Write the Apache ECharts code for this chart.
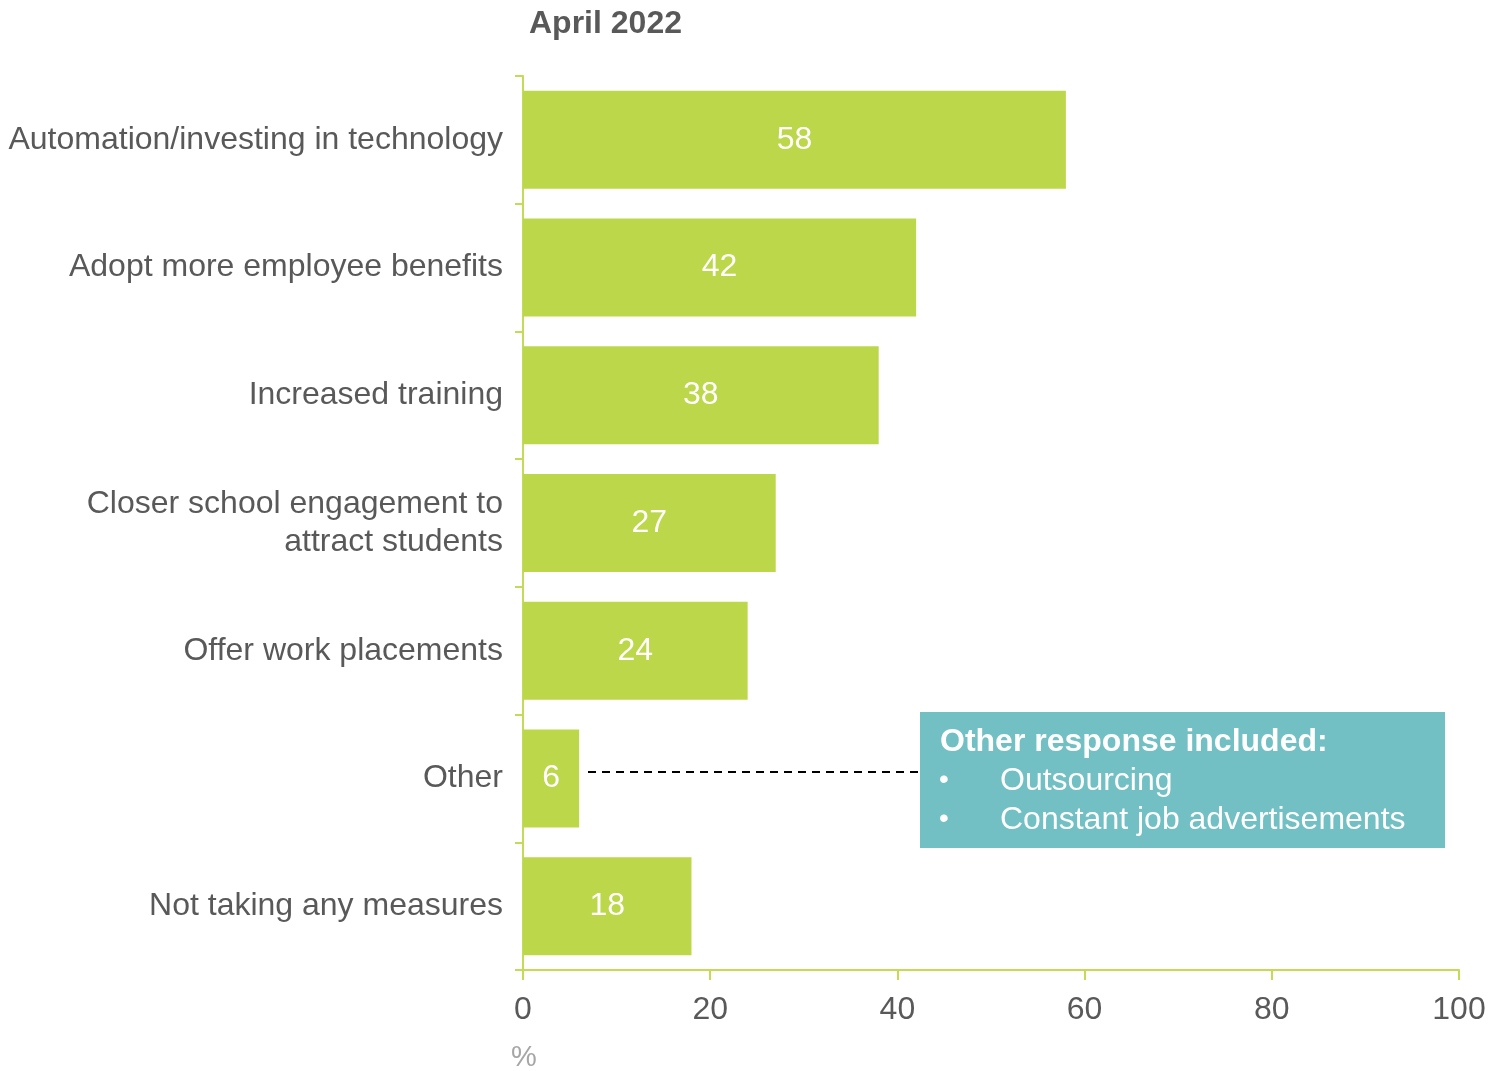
<!DOCTYPE html>
<html>
<head>
<meta charset="utf-8">
<script src="https://cdn.jsdelivr.net/npm/echarts@6/dist/echarts.min.js"></script>
<style>
html,body{margin:0;padding:0;background:#fff;}
#chart{width:1491px;height:1071px;}
</style>
</head>
<body>
<div id="chart"></div>
<script>
const categories = [
  "Automation/investing in technology",
  "Adopt more employee benefits",
  "Increased training",
  "Closer school engagement to\nattract students",
  "Offer work placements",
  "Other",
  "Not taking any measures"
];
const values = [58, 42, 38, 27, 24, 6, 18];
const xTicks = { min: 0, max: 100, interval: 20 };
const titleText = "April 2022";
const unitText = "%";
const noteTitle = "Other response included:";
const noteItems = ["Outsourcing", "Constant job advertisements"];

const FONT = '"Liberation Sans", Arial, sans-serif';
const GREEN = '#BCD749';
const AXIS = '#C3DB55';
const TEXT = '#595959';

const chart = echarts.init(document.getElementById('chart'), null, {renderer: 'canvas'});
const option = {
  animation: false,
  backgroundColor: '#fff',
  title: {
    text: titleText,
    left: 524, top: 3,
    textStyle: {fontFamily: FONT, fontSize: 32, fontWeight: 'bold', color: TEXT}
  },
  grid: {left: 523, right: 32, top: 76, bottom: 101, containLabel: false},
  xAxis: {
    type: 'value', min: xTicks.min, max: xTicks.max, interval: xTicks.interval,
    axisLine: {show: true, lineStyle: {color: AXIS, width: 2}},
    axisTick: {show: true, length: 10, lineStyle: {color: AXIS, width: 2}},
    splitLine: {show: false},
    axisLabel: {fontFamily: FONT, fontSize: 32, color: TEXT, margin: 24}
  },
  yAxis: {
    type: 'category', data: categories, inverse: true,
    axisLine: {show: true, lineStyle: {color: AXIS, width: 2}},
    axisTick: {show: true, length: 8, lineStyle: {color: AXIS, width: 2}},
    axisLabel: {fontFamily: FONT, fontSize: 32, color: TEXT, margin: 20, lineHeight: 38, align: 'right', padding: [9, 0, 0, 0]}
  },
  series: [{
    type: 'bar', data: values, barWidth: 98,
    itemStyle: {color: GREEN},
    label: {show: true, position: 'inside', color: '#fff', fontFamily: FONT, fontSize: 32, padding: [10, 0, 0, 0]}
  }],
  graphic: [
    {type: 'text', left: 511, top: 1043, style: {text: unitText, font: '29px ' + FONT, fill: '#A6A6A6'}},
    {type: 'line', shape: {x1: 588, y1: 772, x2: 918, y2: 772}, style: {stroke: '#000', lineWidth: 2, lineDash: [8, 6]}},
    {type: 'rect', shape: {x: 920, y: 712, width: 525, height: 136}, style: {fill: '#72BFC4'}},
    {type: 'text', x: 940, y: 742, style: {text: noteTitle, font: 'bold 32px ' + FONT, fill: '#fff', textVerticalAlign: 'middle'}},
    {type: 'text', x: 939, y: 780, style: {text: '•', font: '28px ' + FONT, fill: '#fff', textVerticalAlign: 'middle'}},
    {type: 'text', x: 1000, y: 781, style: {text: noteItems[0], font: '32px ' + FONT, fill: '#fff', textVerticalAlign: 'middle'}},
    {type: 'text', x: 939, y: 819, style: {text: '•', font: '28px ' + FONT, fill: '#fff', textVerticalAlign: 'middle'}},
    {type: 'text', x: 1000, y: 820, style: {text: noteItems[1], font: '32px ' + FONT, fill: '#fff', textVerticalAlign: 'middle'}}
  ]
};
chart.setOption(option);
</script>
</body>
</html>
